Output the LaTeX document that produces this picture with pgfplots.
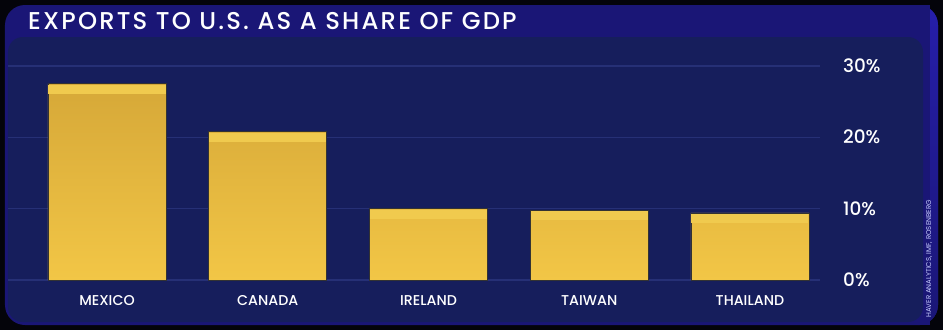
\documentclass[border=0pt]{standalone}
\usepackage{fontspec}
\setmainfont{Poppins}
\newfontfamily\medfont{Poppins Medium}
\newfontfamily\titlefont[LetterSpace=9]{Poppins Medium}
\usepackage{pgfplots}
\pgfplotsset{compat=1.18}
\definecolor{outer}{RGB}{4,4,10}
\definecolor{framec}{RGB}{26,22,118}
\definecolor{framebright}{RGB}{38,30,170}
\definecolor{panelnavy}{RGB}{22,30,92}
\definecolor{gridc}{RGB}{38,48,118}
\definecolor{goldtop}{RGB}{214,168,56}
\definecolor{goldbot}{RGB}{242,198,70}
\definecolor{goldband}{RGB}{240,202,78}
\definecolor{srcc}{RGB}{200,205,255}
\begin{document}
\begin{tikzpicture}
\begin{axis}[
  set layers,
  scale only axis,
  width=812bp, height=214bp,
  xmin=-0.616, xmax=4.436, ymin=0, ymax=30,
  axis line style={draw=none},
  major tick length=0pt,
  ymajorgrids, grid style={gridc, line width=1.2bp},
  ytick={0,10,20,30},
  yticklabel pos=right,
  yticklabel={\pgfmathprintnumber[assume math mode=true]{\tick}\%},
  yticklabel style={anchor=base west, inner sep=0, xshift=23bp, yshift=-6.5bp, text=white, font=\medfont\fontsize{18.5}{18.5}\selectfont},
  xtick={0,1,2,3,4},
  xticklabels={MEXICO,CANADA,IRELAND,TAIWAN,THAILAND},
  xticklabel style={anchor=base, inner sep=0, yshift=-25bp, text=white, font=\medfont\fontsize{14.3}{14.3}\selectfont},
  clip=false,
]
\begin{pgfonlayer}{axis background}
\begin{scope}[shift={(axis cs:0,0)}, x=1bp, y=1bp]
  \fill[outer] (-107,-50) rectangle (836,280);
  \coordinate (BL) at (-107,-50);
  \coordinate (TR) at (836,280);
  \fill[framec, rounded corners=20bp] (-102,-45) rectangle (831,275);
  \shade[top color=framebright, bottom color=framec, rounded corners=20bp] (793,-45) rectangle (831,275);
  \fill[framec] (793,-45) rectangle (823,275);
  \fill[panelnavy, rounded corners=15bp] (-99,-42) rectangle (816,243);
\end{scope}
\end{pgfonlayer}
\begin{scope}[shift={(axis cs:0,0)}, x=1bp, y=1bp]
  \node[anchor=base west, text=white, inner sep=0, font=\titlefont\fontsize{24.4}{24.4}\selectfont] at (-79,251) {EXPORTS TO U.S. AS A SHARE OF GDP};
  \node[rotate=90, anchor=base west, inner sep=0, text=srcc, font=\fontsize{7}{7}\selectfont] at (824,-38) {HAVER ANALYTICS, IMF, ROSENBERG};
\end{scope}
\addplot[ybar, bar width=118bp, draw=black!80, line width=0.8bp,
  top color=goldtop, bottom color=goldbot,
  nodes near coords={},
  every node near coord/.style={anchor=north, inner sep=0, minimum width=117bp, minimum height=9bp, fill=goldband, yshift=-0.5bp}]
coordinates {(0,27.5) (1,20.8) (2,10.0) (3,9.8) (4,9.4)};
\end{axis}
\pgfresetboundingbox
\useasboundingbox (BL) rectangle (TR);
\end{tikzpicture}
\end{document}
